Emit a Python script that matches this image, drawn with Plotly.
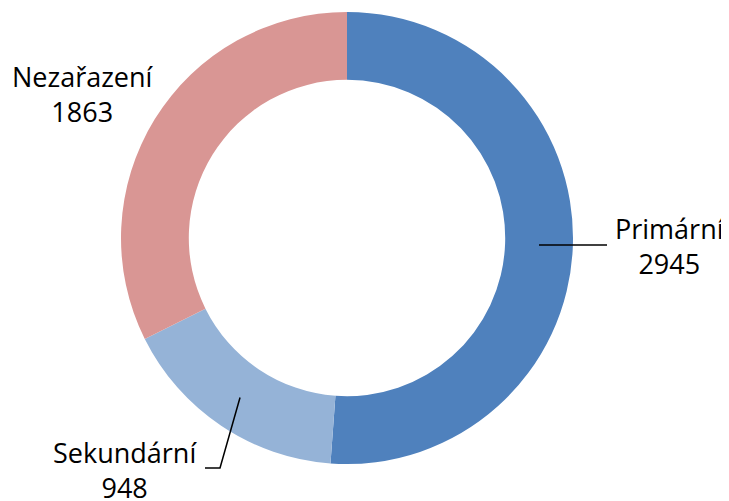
import math
import plotly.graph_objects as go

labels = ["Primární", "Sekundární", "Nezařazení"]
values = [2945, 948, 1863]
colors = ["#4F81BD", "#95B3D7", "#D99694"]

W, H = 729, 501
OFF = 8  # page body margin offset
CX, CY, R_OUT = 347, 238, 226
HOLE = 0.70
FONT = "Open Sans"
FSIZE = 27

def px(x, y):
    return (x - OFF) / W, 1 - (y - OFF) / H

fig = go.Figure()
dx0, dy1 = px(CX - R_OUT, CY - R_OUT)
dx1, dy0 = px(CX + R_OUT, CY + R_OUT)
fig.add_trace(go.Pie(
    labels=labels, values=values, hole=HOLE, sort=False,
    direction="clockwise", rotation=0,
    marker=dict(colors=colors, line=dict(width=0)),
    textinfo="none", hoverinfo="label+value", showlegend=False,
    domain=dict(x=[dx0, dx1], y=[dy0, dy1]),
))

# mid-ring anchor points for leader lines, computed from data
total = sum(values)
r_mid = R_OUT * (1 + HOLE) / 2
anchors = []
cum = 0
for v in values:
    a = 2 * math.pi * (cum + v / 2) / total
    anchors.append((CX + r_mid * math.sin(a), CY - r_mid * math.cos(a)))
    cum += v

# label placement (layout)
label_pos = [(670, 246), (125, 470), (83, 94)]
shapes = []
ax, ay = anchors[0]
x0, y0 = px(ax, ay)
x1, y1 = px(607, ay)
shapes.append(dict(type="line", xref="paper", yref="paper", x0=x0, y0=y0, x1=x1, y1=y1,
                   line=dict(color="black", width=1.5)))
ax, ay = anchors[1]
p0 = px(ax, ay)
p1 = px(220, 468)
p2 = px(205, 468)
shapes.append(dict(type="path", xref="paper", yref="paper",
                   path=f"M {p0[0]} {p0[1]} L {p1[0]} {p1[1]} L {p2[0]} {p2[1]}",
                   line=dict(color="black", width=1.5)))

annotations = []
for lab, val, (lx, ly) in zip(labels, values, label_pos):
    x, y = px(lx, ly)
    annotations.append(dict(xref="paper", yref="paper", x=x, y=y,
                            xanchor="center", yanchor="middle", showarrow=False,
                            text=f"{lab}<br>{val}", align="center",
                            font=dict(family=FONT, size=FSIZE, color="black")))

fig.update_layout(
    width=W, height=H,
    margin=dict(l=0, r=0, t=0, b=0),
    paper_bgcolor="white", plot_bgcolor="white",
    shapes=shapes, annotations=annotations,
    font=dict(family=FONT),
)
fig.write_html("out.html")
